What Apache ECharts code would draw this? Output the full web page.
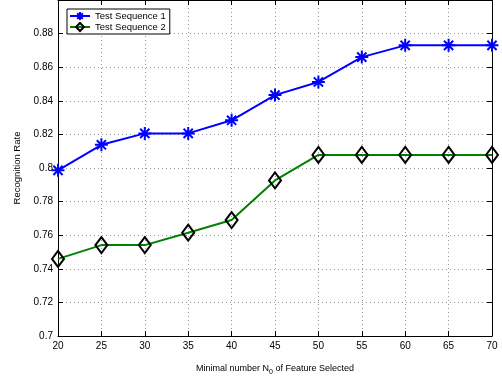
<!DOCTYPE html>
<html><head><meta charset="utf-8">
<script src="https://cdn.jsdelivr.net/npm/echarts@6/dist/echarts.min.js"></script>
<style>html,body{margin:0;padding:0;background:#fff}#c{width:502px;height:381px}</style>
</head><body><div id="c"></div>
<script>
const xValues = [20, 25, 30, 35, 40, 45, 50, 55, 60, 65, 70];
const seq1 = [0.7986, 0.8138, 0.8206, 0.8206, 0.8284, 0.8434, 0.8512, 0.8660, 0.8730, 0.8730, 0.8730];
const seq2 = [0.7459, 0.7541, 0.7541, 0.7615, 0.7690, 0.7926, 0.8078, 0.8078, 0.8078, 0.8078, 0.8078];
const seriesNames = ['Test Sequence 1', 'Test Sequence 2'];
const xName = ['Minimal number N', '0', ' of Feature Selected'];
const yName = 'Recognition Rate';

const font = 'Liberation Sans, Arial, Helvetica, sans-serif';
const chart = echarts.init(document.getElementById('c'), null, {renderer: 'canvas'});
const star = 'path://M0,-10L0,10M-10,0L10,0M-7.07,-7.07L7.07,7.07M-7.07,7.07L7.07,-7.07';
const frameAxis = (pos) => ({
  axisLine: {show: true, onZero: false, lineStyle: {color: '#000', width: 1}},
  axisTick: {show: true, inside: true, length: 5, lineStyle: {color: '#000'}},
  axisLabel: {show: false}, splitLine: {show: false}, position: pos
});
chart.setOption({
  animation: false,
  backgroundColor: '#fff',
  grid: {left: 58, right: 10, top: 0, bottom: 40, containLabel: false},
  legend: {
    orient: 'vertical', left: 67, top: 9, padding: [2, 4, 2, 2], itemGap: 1,
    itemWidth: 20, itemHeight: 10,
    borderColor: '#000', borderWidth: 1, backgroundColor: '#fff',
    textStyle: {fontFamily: font, fontSize: 9.5, color: '#000'},
    data: [
      {name: seriesNames[0], itemStyle: {color: 'rgba(0,0,0,0)', borderColor: '#0000ff', borderWidth: 2}},
      {name: seriesNames[1], itemStyle: {color: 'rgba(0,0,0,0)', borderColor: '#000', borderWidth: 2}}
    ]
  },
  xAxis: [{
    type: 'value', min: 20, max: 70, interval: 5,
    name: '{a|' + xName[0] + '}{s|' + xName[1] + '}{a|' + xName[2] + '}',
    nameLocation: 'middle', nameGap: 25,
    nameTextStyle: {rich: {a: {fontFamily: font, fontSize: 9, color: '#000'}, s: {fontFamily: font, fontSize: 7, color: '#000', padding: [8, 0, 0, 0]}}},
    axisLine: {show: true, onZero: false, lineStyle: {color: '#000', width: 1}},
    axisTick: {show: true, inside: true, length: 5, lineStyle: {color: '#000'}},
    axisLabel: {fontFamily: font, fontSize: 10, color: '#000', margin: 5},
    splitLine: {show: true, lineStyle: {color: '#999', type: [1, 3], width: 1}}
  }, Object.assign({type: 'value', min: 20, max: 70, interval: 5}, frameAxis('top'))],
  yAxis: [{
    type: 'value', min: 0.7, max: 0.9, interval: 0.02,
    name: yName, nameLocation: 'middle', nameGap: 36,
    nameTextStyle: {fontFamily: font, fontSize: 9.5, color: '#000'},
    axisLine: {show: true, onZero: false, lineStyle: {color: '#000', width: 1}},
    axisTick: {show: true, inside: true, length: 5, lineStyle: {color: '#000'}},
    axisLabel: {fontFamily: font, fontSize: 10, color: '#000', margin: 5,
      formatter: v => v > 0.895 ? '' : String(+v.toFixed(2))},
    splitLine: {show: true, lineStyle: {color: '#999', type: [1, 3], width: 1}}
  }, Object.assign({type: 'value', min: 0.7, max: 0.9, interval: 0.02}, frameAxis('right'))],
  series: [{
    name: seriesNames[0], type: 'line',
    data: xValues.map((x, i) => [x, seq1[i]]),
    lineStyle: {color: '#0000ff', width: 2},
    symbol: star, symbolSize: 13, showAllSymbol: true,
    itemStyle: {color: 'rgba(0,0,0,0)', borderColor: '#0000ff', borderWidth: 2},
    z: 3
  }, {
    name: seriesNames[1], type: 'line',
    data: xValues.map((x, i) => [x, seq2[i]]),
    lineStyle: {color: '#008000', width: 2},
    symbol: 'diamond', symbolSize: [12, 16], showAllSymbol: true,
    itemStyle: {color: 'rgba(0,0,0,0)', borderColor: '#000', borderWidth: 2},
    z: 2
  }]
});
</script></body></html>
